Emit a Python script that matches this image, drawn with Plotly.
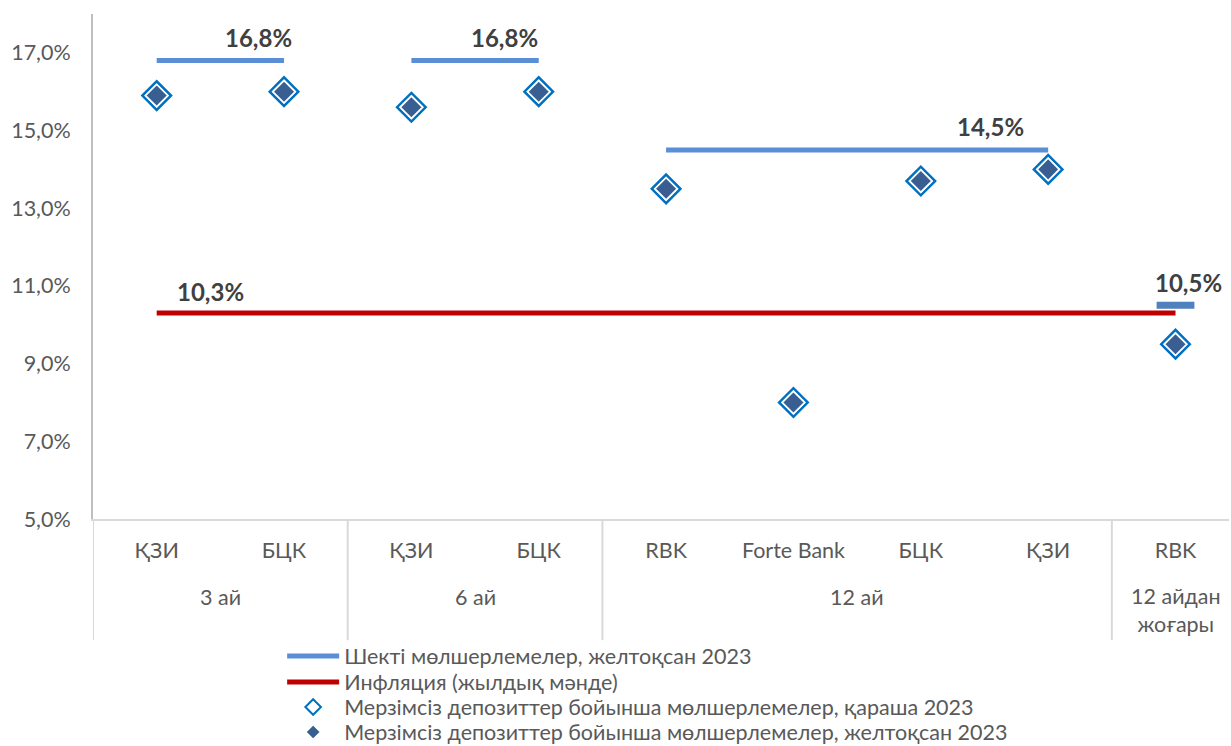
import plotly.graph_objects as go

# ---- data ----
categories = ["ҚЗИ", "БЦК", "ҚЗИ", "БЦК", "RBK", "Forte Bank", "БЦК", "ҚЗИ", "RBK"]
groups = ["3 ай", "3 ай", "6 ай", "6 ай", "12 ай", "12 ай", "12 ай", "12 ай", "12 айдан<br>жоғары"]
limit_rates = [16.8, 16.8, 16.8, 16.8, 14.5, 14.5, 14.5, 14.5, 10.5]
inflation = [10.3] * 9
rates_nov = [15.9, 16.0, 15.6, 16.0, 13.5, 8.0, 13.7, 14.0, 9.5]
rates_dec = [15.9, 16.0, 15.6, 16.0, 13.5, 8.0, 13.7, 14.0, 9.5]
y_ticks = [5, 7, 9, 11, 13, 15, 17]

name_limit = "Шекті мөлшерлемелер, желтоқсан 2023"
name_infl = "Инфляция (жылдық мәнде)"
name_nov = "Мерзімсіз депозиттер бойынша мөлшерлемелер, қараша 2023"
name_dec = "Мерзімсіз депозиттер бойынша мөлшерлемелер, желтоқсан 2023"

FONT = "Lato"
FS = 21.5
TXT = "#595959"
xs = list(range(len(categories)))

# group segments
seg_x, seg_y, singles_x, singles_y = [], [], [], []
group_spans = []
i = 0
while i < len(groups):
    j = i
    while j + 1 < len(groups) and groups[j + 1] == groups[i]:
        j += 1
    group_spans.append((groups[i], i, j))
    if j > i:
        seg_x += xs[i:j + 1] + [None]
        seg_y += limit_rates[i:j + 1] + [None]
    else:
        singles_x.append(xs[i])
        singles_y.append(limit_rates[i])
    i = j + 1

fig = go.Figure()
fig.add_trace(go.Scatter(x=seg_x, y=seg_y, mode="lines", name=name_limit, legend="legend",
                         line=dict(color="#5A8ED6", width=5), connectgaps=False))
fig.add_trace(go.Scatter(x=singles_x, y=singles_y, mode="markers", showlegend=False,
                         marker=dict(symbol="line-ew", size=27,
                                     line=dict(color="#4F81BD", width=7))))
fig.add_trace(go.Scatter(x=xs, y=inflation, mode="lines", name=name_infl, legend="legend2",
                         line=dict(color="#C00000", width=5)))
fig.add_trace(go.Scatter(x=xs, y=rates_nov, mode="markers", name=name_nov, legend="legend3",
                         marker=dict(symbol="diamond-open", size=22, color="#0070C0",
                                     line=dict(color="#0070C0", width=2.5))))
fig.add_trace(go.Scatter(x=xs, y=rates_dec, mode="markers", name=name_dec, legend="legend4",
                         marker=dict(symbol="diamond", size=17, color="#385E92",
                                     line=dict(color="white", width=1.5))))

annotations = []
lab_font = dict(family=FONT, size=24, color="#404040")
def pct(v):
    return f"{v:.1f}".replace(".", ",") + "%"
# limit labels (near right end of each group)
label_dx = [-0.2, -0.27, -0.45, 0.1]
for (g, a, b), dx in zip(group_spans, label_dx):
    annotations.append(dict(x=b + dx, y=limit_rates[b], text="<b>" + pct(limit_rates[b]) + "</b>",
                            showarrow=False, yshift=23, font=lab_font))
annotations.append(dict(x=0.42, y=inflation[0], text="<b>" + pct(inflation[0]) + "</b>",
                        showarrow=False, yshift=22, font=lab_font))
# group labels
for g, a, b in group_spans:
    two = "<br>" in g
    annotations.append(dict(x=(a + b) / 2, y=-0.155 if not two else -0.181, xref="x", yref="paper",
                            text=g, showarrow=False, yanchor="middle",
                            font=dict(family=FONT, size=FS, color=TXT)))

shapes = []
div_x = [-0.5] + [b + 0.5 for g, a, b in group_spans[:-1]]
for dx in div_x:
    shapes.append(dict(type="line", xref="x", yref="paper", x0=dx, x1=dx, y0=0, y1=-0.24,
                       line=dict(color="#D9D9D9", width=2)))

leg_common = dict(x=0.1665, xanchor="left", yanchor="middle",
                  font=dict(family=FONT, size=FS, color=TXT), itemsizing="constant",
                  itemwidth=52, bgcolor="rgba(0,0,0,0)")
leg_y = [-0.2713, -0.3228, -0.3723, -0.4218]

fig.update_layout(
    width=1231, height=746,
    margin=dict(l=93, r=2, t=14, b=227, autoexpand=False),
    paper_bgcolor="white", plot_bgcolor="white",
    font=dict(family=FONT, size=FS, color=TXT),
    showlegend=True,
    legend=dict(y=leg_y[0], **leg_common),
    legend2=dict(y=leg_y[1], **leg_common),
    legend3=dict(y=leg_y[2], **leg_common),
    legend4=dict(y=leg_y[3], **leg_common),
    annotations=annotations, shapes=shapes,
)
fig.update_xaxes(range=[-0.5, 8.42], tickvals=xs, ticktext=categories, showgrid=False,
                 showline=True, linecolor="#D9D9D9", linewidth=2, ticks="",
                 ticklabelstandoff=11, zeroline=False, automargin=False,
                 tickfont=dict(family=FONT, size=FS, color=TXT))
fig.update_yaxes(range=[5, 18], tickvals=y_ticks, ticktext=[pct(v) for v in y_ticks],
                 showgrid=False, showline=True, linecolor="#BFBFBF", linewidth=2, ticks="",
                 zeroline=False, ticklabelstandoff=16, automargin=False,
                 tickfont=dict(family=FONT, size=FS, color=TXT))

fig.write_html("out.html", config={"displayModeBar": False},
               post_script="document.body.style.margin='0';document.body.style.overflow='hidden';")
